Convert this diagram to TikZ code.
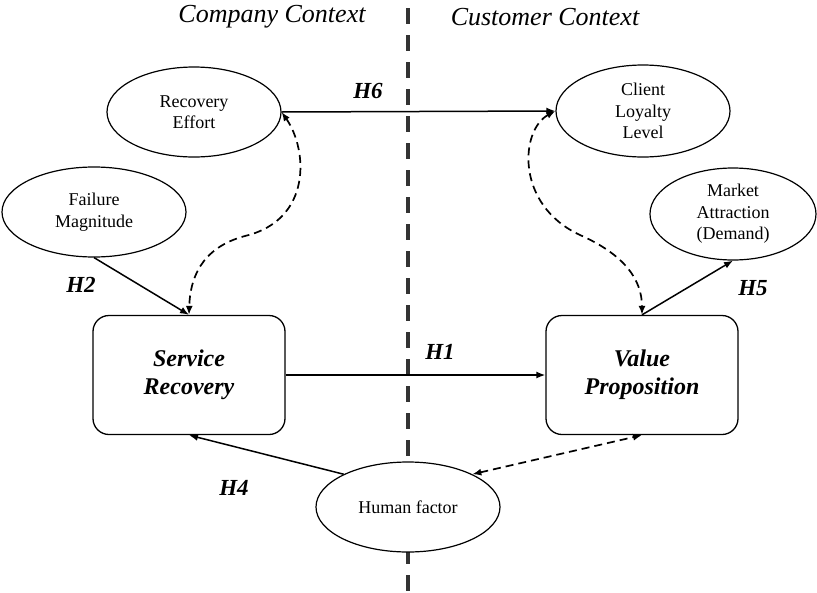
\documentclass[tikz,border=0pt]{standalone}
\usepackage{fontspec}
\setmainfont{Liberation Serif}
\usetikzlibrary{arrows.meta,shapes.geometric}

\tikzset{
  oval/.style={draw, ellipse, fill=white, line width=1.2pt, inner sep=0pt,
    align=center, font=\fontsize{18}{21.5}\selectfont},
  mainbox/.style={draw, rounded corners=16pt, fill=white, line width=1.3pt,
    minimum width=192pt, minimum height=119pt, align=center,
    font=\fontsize{24}{28}\selectfont\bfseries\itshape},
  hyp/.style={font=\fontsize{23}{26}\selectfont\bfseries\itshape},
  ctx/.style={font=\fontsize{26}{30}\selectfont\itshape},
  link/.style={line width=1.5pt, -{Latex[length=9pt,width=7pt]}},
  dlink/.style={line width=1.7pt, dash pattern=on 8pt off 5pt,
    {Latex[length=9pt,width=7pt]}-{Latex[length=9pt,width=7pt]}},
  divider/.style={line width=3.6pt, draw=black!80, dash pattern=on 16pt off 11pt}
}

\begin{document}
\begin{tikzpicture}[x=1pt, y=-1pt]
\useasboundingbox (0,0) rectangle (817,592);

% context divider
\coordinate (dtop) at (408,8);
\coordinate (dbot) at (408,592);
\draw[divider] (dtop) -- (dbot);

% context headings
\node[ctx] (cc) at (272,17) {Company Context};
\node[ctx] (uc) at (545,17) {Customer Context};

% constructs
\node[oval, minimum width=174pt, minimum height=90pt] (re) at (194,112) {Recovery\\Effort};
\node[oval, minimum width=184pt, minimum height=90pt] (fm) at (94,212) {Failure\\Magnitude};
\node[oval, minimum width=174pt, minimum height=92pt] (cl) at (643,111) {Client\\Loyalty\\Level};
\node[oval, minimum width=166pt, minimum height=92pt] (ma) at (733,214) {Market\\Attraction\\(Demand)};
\node[oval, minimum width=184pt, minimum height=90pt] (hf) at (408,507) {Human factor};

\node[mainbox] (sr) at (189,375) {Service\\Recovery};
\node[mainbox] (vp) at (642,375) {Value\\Proposition};

% hypothesised paths
\draw[link] (re.east) -- (cl.west);
\draw[link] (fm.south) -- (sr.north);
\draw[link] (sr.east) -- (vp.west);
\draw[link] (vp.north) -- (ma.south);
\draw[link] (hf.153) -- (sr.south);

% reciprocal (dashed) relations
\draw[dlink] (re.east) .. controls (308,150) and (312,220) .. (245,236)
  .. controls (200,248) and (190,280) .. (sr.north);
\draw[dlink] (cl.west) .. controls (520,130) and (515,205) .. (580,235)
  .. controls (625,255) and (642,280) .. (vp.north);
\draw[dlink] (hf.27) -- (vp.south);

% hypothesis labels
\node[hyp] (h6) at (368,91) {H6};
\node[hyp] (h2) at (81,285) {H2};
\node[hyp] (h5) at (753,288) {H5};
\node[hyp] (h1) at (440,352) {H1};
\node[hyp] (h4) at (234,488) {H4};
\end{tikzpicture}
\end{document}
